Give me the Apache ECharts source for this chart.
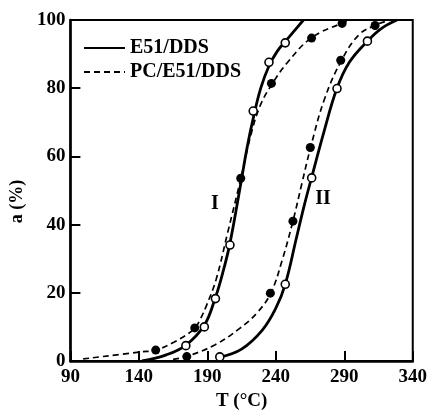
<!DOCTYPE html>
<html>
<head>
<meta charset="utf-8">
<script src="https://cdn.jsdelivr.net/npm/echarts@6/dist/echarts.min.js"></script>
<style>html,body{margin:0;padding:0;background:#fff}#c{width:430px;height:416px}</style>
</head>
<body>
<div id="c"></div>
<script>
// ---- data ----
const xTicks = [90, 140, 190, 240, 290, 340];
const yTicks = [0, 20, 40, 60, 80, 100];
// curve I, E51/DDS (solid)
const curveI_solid = [[142.3,0],[160,1.8],[174.1,4.6],[187.8,10.5],[195.7,18.4],[201,25.5],[206.5,34.5],[214.4,52],[219,62.5],[223.7,71.5],[229,80],[235,86.5],[241,90.8],[246.7,93.6],[253,96.6],[260.2,100]];
// curve I, PC/E51/DDS (dashed)
const curveI_dashed = [[99.3,0.6],[141.8,2.7],[152.3,3.2],[165.5,5.5],[180.6,9.5],[185,12.4],[189.2,16.1],[196.4,23.9],[205,37.9],[214.4,53.4],[221.6,66],[228.7,75],[237.4,81.3],[248.2,87.4],[266.1,94.8],[288.4,99.1],[294.9,100]];
// curve II, E51/DDS (solid)
const curveII_solid = [[199.1,1.15],[215,3.5],[230,9],[240,15.5],[246.9,22.5],[255,36],[261,46],[266.6,54.5],[275,67],[284.6,79.9],[293.7,87.6],[306.9,93.8],[317,97.5],[328.5,100]];
// curve II, PC/E51/DDS (dashed)
const curveII_dashed = [[165,0.5],[175,1.35],[195.4,4.7],[213.4,9.5],[226,14],[236.2,19.8],[244.6,29.5],[252.5,41],[259,52],[265.4,62.6],[275.7,77],[288.2,88.3],[300.8,95.7],[313.4,98.6],[323.6,100]];
// measured points
const openI = [[174.3,4.5],[187.8,10],[195.9,18.3],[206.5,34],[223.5,73.3],[235,87.6],[246.9,93.3]];
const filledI = [[152.3,3.2],[180.8,9.7],[214.4,53.6],[236.8,81.4],[266.1,94.7],[288.4,99]];
const openII = [[199.1,1.2],[246.9,22.5],[266.2,53.7],[284.7,79.9],[306.9,93.8]];
const filledII = [[175,1.3],[236,19.9],[252.5,41],[265.2,62.6],[287.4,88.2],[312.5,98.4]];
// curve labels
const curveLabels = [{name:'I', value:[195.5, 46]}, {name:'II', value:[274.5, 47.5]}];

const FONT = 'Liberation Serif';
const chart = echarts.init(document.getElementById('c'), null, {renderer:'canvas'});

function lineSeries(name, data, dashed){
  return {
    type:'line', name:name, data:data, smooth:0.4, symbol:'none', z:2,
    lineStyle:{color:'#000', width: dashed ? 1.7 : 2.8, type: dashed ? [6,4] : 'solid'},
    itemStyle:{color:'#000'}
  };
}
function markerSeries(name, data, open){
  return {
    type:'scatter', name:name, data:data, symbol:'circle', symbolSize: open ? 8 : 9, z:5,
    itemStyle: open ? {color:'#fff', borderColor:'#000', borderWidth:1.6, opacity:1}
                    : {color:'#000', opacity:1}
  };
}

chart.setOption({
  animation:false,
  backgroundColor:'#fff',
  grid:{left:65, right:17, top:20, bottom:48, show:true, borderColor:'#000', borderWidth:2},
  legend:{
    data:['E51/DDS','PC/E51/DDS'], orient:'vertical', left:78, top:33, itemWidth:41, itemHeight:14, itemGap:4,
    itemStyle:{color:'rgba(0,0,0,0)', borderWidth:0, opacity:0},
    textStyle:{fontFamily:FONT, fontWeight:'bold', fontSize:20, color:'#000'}
  },
  xAxis:{
    type:'value', min:90, max:340, interval:50,
    name:'T (°C)', nameLocation:'middle', nameGap:31,
    nameTextStyle:{fontFamily:FONT, fontWeight:'bold', fontSize:19, color:'#000'},
    axisLine:{lineStyle:{color:'#000', width:2.5}},
    axisTick:{inside:true, length:10, lineStyle:{width:2}},
    axisLabel:{margin:7, fontFamily:FONT, fontWeight:'bold', fontSize:19, color:'#000',
      formatter:v=> xTicks.includes(v) ? String(v) : ''},
    splitLine:{show:false}
  },
  yAxis:{
    type:'value', min:0, max:100, interval:20,
    name:'a (%)', nameLocation:'middle', nameGap:44,
    nameTextStyle:{fontFamily:FONT, fontWeight:'bold', fontSize:18, color:'#000', padding:[0,22,0,0]},
    axisLine:{lineStyle:{color:'#000', width:2.5}},
    axisTick:{inside:true, length:10, lineStyle:{width:2}},
    axisLabel:{margin:5, fontFamily:FONT, fontWeight:'bold', fontSize:19, color:'#000',
      formatter:v=> yTicks.includes(v) ? String(v) : ''},
    splitLine:{show:false}
  },
  series:[
    lineSeries('E51/DDS', curveI_solid, false),
    lineSeries('PC/E51/DDS', curveI_dashed, true),
    lineSeries('E51/DDS', curveII_solid, false),
    lineSeries('PC/E51/DDS', curveII_dashed, true),
    markerSeries('openI', openI, true),
    markerSeries('filledI', filledI, false),
    markerSeries('openII', openII, true),
    markerSeries('filledII', filledII, false),
    {type:'scatter', name:'labels', data:curveLabels, symbolSize:0, z:6, itemStyle:{opacity:1},
     label:{show:true, position:'inside', formatter:p=>p.name, fontFamily:FONT, fontWeight:'bold', fontSize:20, color:'#000', opacity:1}}
  ]
});
</script>
</body>
</html>
